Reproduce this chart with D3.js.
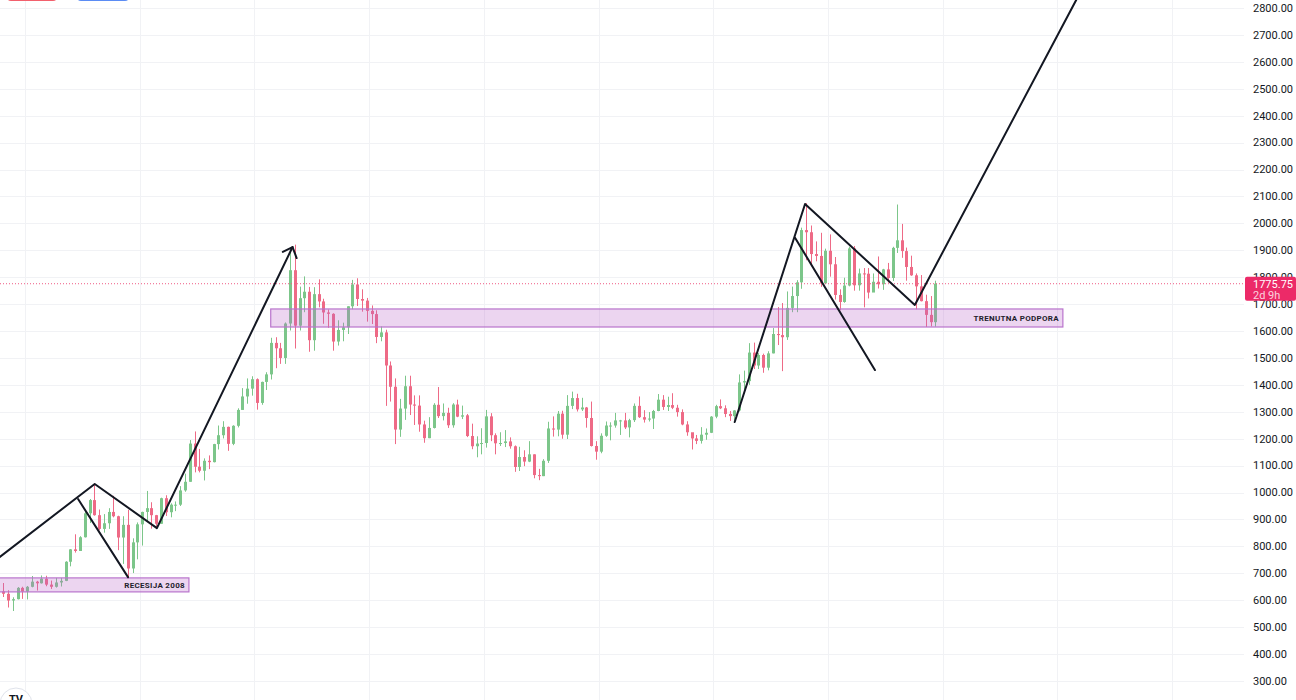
<!DOCTYPE html>
<html>
<head>
<meta charset="utf-8">
<script src="https://cdn.jsdelivr.net/npm/d3@7"></script>
<style>
  html, body { margin: 0; padding: 0; background: #fff; }
  svg { display: block; font-family: Roboto, "Liberation Sans", sans-serif; }
</style>
</head>
<body>
<svg width="1296" height="700"></svg>
<script>
// monthly candles, Jul 2006 .. Nov 2022
const firstMonth = new Date(2006, 6, 1);
const firstOpen = 614;

const closes = [
  633, 624, 599, 604, 646, 632,
  650, 669, 663, 680, 658, 650, 666, 672, 743, 789, 783, 834,
  923, 972, 916, 865, 886, 928, 912, 833, 880, 718, 815, 882,
  928, 942, 916, 884, 979, 927, 955, 955, 1008, 1040, 1182, 1096,
  1081, 1118, 1113, 1180, 1213, 1244, 1181, 1248, 1307, 1357, 1386, 1421,
  1333, 1411, 1439, 1556, 1536, 1500, 1628, 1826, 1620, 1722, 1746, 1566,
  1737, 1710, 1669, 1664, 1561, 1604, 1614, 1692, 1773, 1719, 1713, 1675,
  1663, 1578, 1595, 1472, 1393, 1234, 1312, 1395, 1327, 1323, 1253, 1202,
  1240, 1326, 1284, 1296, 1250, 1327, 1282, 1287, 1210, 1172, 1182, 1184,
  1283, 1213, 1183, 1184, 1190, 1172, 1095, 1132, 1115, 1142, 1065, 1061,
  1118, 1238, 1234, 1293, 1215, 1322, 1351, 1309, 1316, 1277, 1173, 1152,
  1211, 1249, 1249, 1268, 1268, 1242, 1269, 1322, 1280, 1271, 1275, 1303,
  1345, 1318, 1325, 1315, 1299, 1253, 1224, 1201, 1192, 1215, 1222, 1282,
  1321, 1313, 1292, 1284, 1305, 1409, 1414, 1520, 1472, 1511, 1464, 1517,
  1589, 1585, 1577, 1686, 1730, 1781, 1975, 1967, 1886, 1879, 1777, 1898,
  1848, 1734, 1708, 1769, 1907, 1770, 1814, 1813, 1743, 1783, 1774, 1829,
  1797, 1909, 1937, 1897, 1838, 1807, 1766, 1711, 1660, 1633, 1775.75
];

const highs = [
  677, 664, 637, 611, 649, 650,
  653, 690, 672, 692, 691, 673, 683, 683, 745, 790, 845, 838,
  934, 976, 1033, 937, 920, 942, 988, 914, 912, 936, 830, 889,
  929, 1006, 964, 917, 981, 990, 960, 967, 1024, 1070, 1195, 1227,
  1162, 1127, 1138, 1181, 1249, 1265, 1245, 1250, 1313, 1388, 1424, 1432,
  1424, 1412, 1447, 1575, 1577, 1556, 1632, 1911, 1921, 1765, 1803, 1764,
  1763, 1792, 1720, 1680, 1666, 1640, 1631, 1692, 1790, 1796, 1755, 1723,
  1695, 1677, 1617, 1605, 1487, 1424, 1348, 1434, 1434, 1361, 1361, 1267,
  1280, 1332, 1392, 1331, 1315, 1332, 1345, 1323, 1292, 1256, 1209, 1239,
  1307, 1295, 1220, 1224, 1232, 1205, 1175, 1170, 1157, 1191, 1142, 1088,
  1124, 1263, 1283, 1303, 1304, 1362, 1375, 1367, 1352, 1318, 1338, 1191,
  1220, 1264, 1261, 1296, 1270, 1296, 1274, 1331, 1357, 1306, 1299, 1307,
  1366, 1362, 1356, 1369, 1326, 1309, 1265, 1219, 1214, 1243, 1238, 1284,
  1326, 1346, 1324, 1303, 1306, 1439, 1453, 1555, 1557, 1518, 1516, 1525,
  1611, 1689, 1704, 1747, 1765, 1789, 1984, 2075, 1992, 1933, 1965, 1906,
  1959, 1875, 1755, 1798, 1913, 1916, 1832, 1834, 1834, 1814, 1877, 1831,
  1853, 1913, 2070, 1998, 1910, 1880, 1814, 1808, 1735, 1730, 1787
];

const lows = [
  605, 612, 573, 560, 603, 605,
  603, 648, 636, 662, 652, 642, 647, 651, 671, 726, 777, 783,
  833, 887, 914, 860, 851, 865, 908, 786, 735, 681, 701, 752,
  803, 891, 866, 865, 884, 913, 908, 931, 950, 1003, 1040, 1075,
  1075, 1045, 1087, 1112, 1160, 1201, 1155, 1176, 1242, 1308, 1330, 1360,
  1308, 1326, 1381, 1420, 1462, 1478, 1478, 1602, 1535, 1602, 1670, 1523,
  1527, 1688, 1627, 1612, 1527, 1546, 1562, 1589, 1681, 1693, 1672, 1635,
  1626, 1555, 1562, 1322, 1338, 1180, 1207, 1270, 1288, 1251, 1226, 1185,
  1202, 1238, 1277, 1268, 1240, 1241, 1280, 1273, 1206, 1161, 1131, 1142,
  1167, 1191, 1142, 1173, 1169, 1163, 1077, 1080, 1098, 1113, 1053, 1046,
  1061, 1110, 1208, 1209, 1200, 1199, 1310, 1301, 1303, 1241, 1171, 1122,
  1146, 1207, 1194, 1241, 1214, 1236, 1205, 1262, 1277, 1260, 1264, 1236,
  1302, 1307, 1303, 1310, 1282, 1250, 1211, 1160, 1180, 1182, 1196, 1221,
  1276, 1310, 1280, 1266, 1267, 1301, 1382, 1400, 1459, 1459, 1445, 1454,
  1517, 1548, 1451, 1567, 1670, 1670, 1757, 1863, 1849, 1859, 1764, 1775,
  1802, 1717, 1677, 1705, 1766, 1750, 1750, 1688, 1721, 1746, 1758, 1753,
  1780, 1786, 1890, 1872, 1787, 1805, 1681, 1710, 1615, 1617, 1616
];

// price scale ticks and time grid
const priceTicks = d3.range(300, 2801, 100);
const gridYears = [2007, 2009, 2011, 2013, 2015, 2017, 2019, 2021, 2023, 2025, 2027];
const currentPrice = 1775.75;
const countdown = '2d 9h';

// drawings on the chart: [date, price] points
const zigzagLeft = [['2006-07-25', 761], ['2008-03-20', 1032], ['2009-04-20', 868], ['2011-09-01', 1912]];
const arrowHead = [['2011-07-01', 1894], ['2011-09-01', 1912], ['2011-09-27', 1871]];
const legLeft = [['2007-12-05', 976], ['2008-10-18', 686]];
const zigzagRight = [['2019-05-18', 1262], ['2020-08-08', 2072], ['2022-07-08', 1697], ['2025-05-01', 2830]];
const legRight = [['2020-06-06', 1946], ['2021-10-27', 1455]];

const zones = [
  { label: 'TRENUTNA PODPORA', from: '2011-04-15', to: '2025-02-05', top: 1682, bottom: 1615 },
  { label: 'RECESIJA 2008', from: '2006-05-01', to: '2009-11-10', top: 683, bottom: 631 }
];

const svg = d3.select('svg');
const width = +svg.attr('width');
const height = +svg.attr('height');
const plotRight = 1244;

const parse = d3.timeParse('%Y-%m-%d');

const x = d3.scaleTime()
  .domain([new Date(2007, 0, 1), new Date(2027, 0, 1)])
  .range([25, 1172]);

const y = d3.scaleLinear()
  .domain([300, 2800])
  .range([681, 8]);

svg.append('rect').attr('width', width).attr('height', height).attr('fill', '#fff');

svg.append('defs').append('clipPath').attr('id', 'plot')
  .append('rect').attr('x', 0).attr('y', 0).attr('width', plotRight).attr('height', height);

// grid
const grid = svg.append('g').attr('stroke', '#f1f2f5').attr('stroke-width', 1);
grid.selectAll('.h').data(priceTicks).join('line')
  .attr('x1', 0).attr('x2', plotRight)
  .attr('y1', d => Math.round(y(d)) + 0.5).attr('y2', d => Math.round(y(d)) + 0.5);
grid.selectAll('.v').data(gridYears.map(yr => new Date(yr, 0, 1))).join('line')
  .attr('x1', d => Math.round(x(d)) + 0.5).attr('x2', d => Math.round(x(d)) + 0.5)
  .attr('y1', 0).attr('y2', height);

// candles
const candles = closes.map((c, i) => {
  const month = d3.timeMonth.offset(firstMonth, i);
  const open = i === 0 ? firstOpen : closes[i - 1];
  return { date: d3.timeDay.offset(month, 15), open, close: c, high: highs[i], low: lows[i] };
});

const up = '#7cc68a';
const down = '#ee6a86';
const plot = svg.append('g').attr('clip-path', 'url(#plot)');

const cg = plot.append('g').selectAll('g').data(candles).join('g')
  .attr('transform', d => `translate(${Math.round(x(d.date)) + 0.5},0)`);
cg.append('line')
  .attr('y1', d => y(d.high)).attr('y2', d => y(d.low))
  .attr('stroke', d => d.close >= d.open ? up : down).attr('stroke-width', 1);
cg.append('rect')
  .attr('x', -1.5).attr('width', 3)
  .attr('y', d => y(Math.max(d.open, d.close)))
  .attr('height', d => Math.max(1, Math.abs(y(d.open) - y(d.close))))
  .attr('fill', d => d.close >= d.open ? up : down);

// zones
zones.forEach(z => {
  const x0 = x(parse(z.from)), x1 = x(parse(z.to));
  plot.append('rect')
    .attr('x', x0).attr('width', x1 - x0)
    .attr('y', y(z.top)).attr('height', y(z.bottom) - y(z.top))
    .attr('fill', 'rgba(186, 104, 200, 0.28)')
    .attr('stroke', '#b974cc').attr('stroke-width', 1.2);
  plot.append('text')
    .attr('x', x1 - 4).attr('y', (y(z.top) + y(z.bottom)) / 2)
    .attr('dy', '0.35em').attr('text-anchor', 'end')
    .attr('font-size', 8).attr('font-weight', 'bold')
    .attr('letter-spacing', 0.3).attr('fill', '#1e222d')
    .text(z.label);
});

// current price line
plot.append('line')
  .attr('x1', 0).attr('x2', plotRight)
  .attr('y1', y(currentPrice)).attr('y2', y(currentPrice))
  .attr('stroke', '#ef5c84').attr('stroke-width', 1).attr('stroke-dasharray', '1,2');

// trend drawings
const line = d3.line().x(d => x(parse(d[0]))).y(d => y(d[1]));
[zigzagLeft, arrowHead, legLeft, zigzagRight, legRight].forEach(pts => {
  plot.append('path')
    .attr('d', line(pts))
    .attr('fill', 'none').attr('stroke', '#131722')
    .attr('stroke-width', 2).attr('stroke-linejoin', 'round').attr('stroke-linecap', 'round');
});

// price scale
const axis = svg.append('g');
axis.selectAll('text').data(priceTicks).join('text')
  .attr('x', 1253).attr('y', d => y(d)).attr('dy', '0.35em')
  .attr('font-size', 11).attr('fill', '#131722')
  .text(d => d3.format('.2f')(d));

const tagY = y(currentPrice);
axis.append('rect')
  .attr('x', 1245).attr('y', tagY - 7).attr('width', 51).attr('height', 24)
  .attr('rx', 2).attr('fill', '#ec2a68');
axis.append('text')
  .attr('x', 1253).attr('y', tagY).attr('dy', '0.35em')
  .attr('font-size', 11).attr('fill', '#fff').text(d3.format('.2f')(currentPrice));
axis.append('text')
  .attr('x', 1253).attr('y', tagY + 11).attr('dy', '0.35em')
  .attr('font-size', 11).attr('fill', 'rgba(255,255,255,0.8)').text(countdown);

// cut-off buttons at the top
svg.append('rect').attr('x', 7).attr('y', -20).attr('width', 50).attr('height', 21).attr('rx', 4).attr('fill', '#f2606d');
svg.append('rect').attr('x', 77).attr('y', -20).attr('width', 52).attr('height', 21).attr('rx', 4).attr('fill', '#5b8cf4');

// logo bottom left
svg.append('circle').attr('cx', 16).attr('cy', 704).attr('r', 16)
  .attr('fill', '#fff').attr('stroke', '#e0e3eb');
svg.append('text').attr('x', 16).attr('y', 703).attr('text-anchor', 'middle')
  .attr('font-size', 11).attr('font-weight', 'bold').attr('fill', '#131722').text('TV');
</script>
</body>
</html>
